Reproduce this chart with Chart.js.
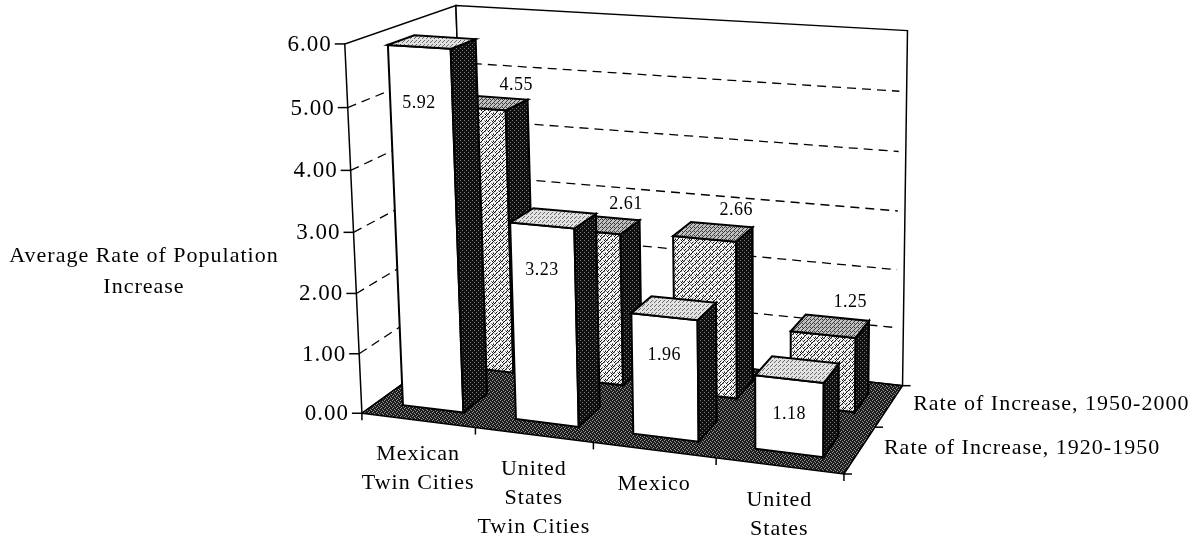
<!DOCTYPE html>
<html>
<head>
<meta charset="utf-8">
<script src="https://cdn.jsdelivr.net/npm/chart.js@4.4.1/dist/chart.umd.min.js"></script>
<style>
  html, body { margin: 0; padding: 0; background: #fff; }
  #wrap { width: 1199px; height: 546px; }
</style>
</head>
<body>
<div id="wrap"><canvas id="c" width="1199" height="546"></canvas></div>
<script>
// ---- data ----
const categories = [
  ['Mexican', 'Twin Cities'],
  ['United', 'States', 'Twin Cities'],
  ['Mexico'],
  ['United', 'States']
];
const seriesNames = ['Rate of Increase, 1920-1950', 'Rate of Increase, 1950-2000'];
const rate1920to1950 = [5.92, 3.23, 1.96, 1.18];
const rate1950to2000 = [4.55, 2.61, 2.66, 1.25];
const valueAxisRange = [0, 6];
const valueAxisStep = 1;
const axisTitle = ['Average Rate of Population', 'Increase'];

// ---- layout of the 3D box ----
// Box corners in normalised box space (x: category axis, y: value axis, z: series rows)
// and where they sit on the canvas; a pinhole camera is fitted through them.
const boxAnchors = [
  [[0, 0, 0], [363, 411]],
  [[0, 1, 0], [345, 44]],
  [[0, 0.5, 0], [354, 230]],
  [[0.25, 0, 0], [475, 430]],
  [[0.5, 0, 0], [593, 446]],
  [[0.75, 0, 0], [715, 460]],
  [[1, 0, 0], [843, 471]],
  [[1, 0, 0.5], [877, 426]],
  [[1, 0, 1], [902, 385]],
  [[1, 0.5, 1], [905, 212]],
  [[1, 1, 1], [908, 31]],
  [[0, 1, 1], [455, 6]]
];
const rowFrontGap = 0.27;  // gap in front of a bar inside its series row
const rowBarDepth = 0.46;  // bar depth inside its series row
const SERIF = '"Liberation Serif", "Times New Roman", serif';

function solveProjection(anchors) {
  const A = [], b = [];
  anchors.forEach(([[X, Y, Z], [u, v]]) => {
    A.push([X, Y, Z, 1, 0, 0, 0, 0, -u * X, -u * Y, -u * Z]); b.push(u);
    A.push([0, 0, 0, 0, X, Y, Z, 1, -v * X, -v * Y, -v * Z]); b.push(v);
  });
  const n = 11;
  const M = [];
  for (let i = 0; i < n; i++) {
    const row = new Array(n + 1).fill(0);
    for (let j = 0; j < n; j++) {
      let s = 0;
      for (let k = 0; k < A.length; k++) s += A[k][i] * A[k][j];
      row[j] = s;
    }
    let s = 0;
    for (let k = 0; k < A.length; k++) s += A[k][i] * b[k];
    row[n] = s;
    M.push(row);
  }
  for (let c = 0; c < n; c++) {
    let piv = c;
    for (let r = c + 1; r < n; r++) if (Math.abs(M[r][c]) > Math.abs(M[piv][c])) piv = r;
    [M[c], M[piv]] = [M[piv], M[c]];
    for (let r = 0; r < n; r++) {
      if (r === c) continue;
      const f = M[r][c] / M[c][c];
      for (let j = c; j <= n; j++) M[r][j] -= f * M[c][j];
    }
  }
  const p = M.map((row, i) => row[n] / row[i]);
  return (x, y, z) => {
    const w = p[8] * x + p[9] * y + p[10] * z + 1;
    return [
      (p[0] * x + p[1] * y + p[2] * z + p[3]) / w,
      (p[4] * x + p[5] * y + p[6] * z + p[7]) / w
    ];
  };
}

function makePattern(ctx, size, base, layers) {
  const c = document.createElement('canvas');
  c.width = c.height = size;
  const g = c.getContext('2d');
  g.fillStyle = base;
  g.fillRect(0, 0, size, size);
  layers.forEach(([color, pixels]) => {
    g.fillStyle = color;
    pixels.forEach(([x, y]) => g.fillRect(x, y, 1, 1));
  });
  return ctx.createPattern(c, 'repeat');
}

const box3d = {
  id: 'box3d',
  afterDatasetsDraw(chart) {
    const ctx = chart.ctx;
    const xs = chart.scales.x, ys = chart.scales.y;
    const proj = solveProjection(boxAnchors);
    const nRows = chart.data.datasets.length;
    const nCats = chart.data.labels.length;

    const pat = {
      floor: makePattern(ctx, 4, '#1c1c1c', [['#959595', [[0, 0], [2, 1], [1, 3], [3, 2]]]]),
      side: makePattern(ctx, 4, '#101010', [['#7a7a7a', [[0, 0], [2, 2]]]]),
      topPlain: makePattern(ctx, 4, '#e2e2e2', [['#6c6c6c', [[0, 0], [2, 2], [3, 1]]]]),
      hatch: makePattern(ctx, 7, '#f6f6f6', [
        ['#8a8a8a', [[1, 1], [4, 4], [2, 5], [5, 2], [3, 0], [0, 3], [6, 6]]],
        ['#151515', [[0, 6], [1, 5], [2, 4], [3, 3], [4, 2], [5, 1], [6, 0], [2, 2], [3, 1], [5, 5], [6, 4]]]
      ]),
      topHatch: makePattern(ctx, 4, '#c0c0c0', [['#3c3c3c', [[0, 3], [1, 2], [2, 1], [3, 0], [2, 3]]]])
    };

    const poly = (pts, fill, stroke, lw) => {
      ctx.beginPath();
      pts.forEach((p, i) => {
        const [u, v] = proj(p[0], p[1], p[2]);
        if (i === 0) ctx.moveTo(u, v); else ctx.lineTo(u, v);
      });
      ctx.closePath();
      if (fill) { ctx.fillStyle = fill; ctx.fill(); }
      if (stroke) { ctx.strokeStyle = stroke; ctx.lineWidth = lw || 1.5; ctx.lineJoin = 'miter'; ctx.stroke(); }
    };
    const line = (a, b, lw, dash) => {
      const [u1, v1] = proj(a[0], a[1], a[2]);
      const [u2, v2] = proj(b[0], b[1], b[2]);
      ctx.beginPath();
      ctx.setLineDash(dash || []);
      ctx.moveTo(u1, v1); ctx.lineTo(u2, v2);
      ctx.strokeStyle = '#000'; ctx.lineWidth = lw || 1.5;
      ctx.stroke();
      ctx.setLineDash([]);
    };
    const yDec = v => ys.getDecimalForPixel(ys.getPixelForValue(v));

    ctx.save();

    // walls
    poly([[0, 0, 0], [0, 1, 0], [0, 1, 1], [0, 0, 1]], '#fff', '#000', 1.5);
    poly([[0, 0, 1], [1, 0, 1], [1, 1, 1], [0, 1, 1]], '#fff', '#000', 1.5);

    // gridlines on both walls
    const ticks = ys.ticks;
    ticks.forEach(t => {
      if (t.value <= ys.min || t.value >= ys.max) return;
      const y = yDec(t.value);
      line([0, y, 0], [0, y, 1], 1.3, [9, 6]);
      line([0, y, 1], [0.985, y, 1], 1.3, [9, 6]);
    });

    // floor
    poly([[0, 0, 0], [1, 0, 0], [1, 0, 1], [0, 0, 1]], pat.floor, '#000', 1.5);

    // value axis tick marks and labels
    ctx.font = '23px ' + SERIF;
    ctx.letterSpacing = '1px';
    ctx.fillStyle = '#000';
    ctx.textAlign = 'right';
    ctx.textBaseline = 'middle';
    ticks.forEach(t => {
      const [u, v] = proj(0, yDec(t.value), 0);
      ctx.beginPath();
      ctx.moveTo(u - 10, v); ctx.lineTo(u, v);
      ctx.strokeStyle = '#000'; ctx.lineWidth = 1.5; ctx.stroke();
      ctx.fillText(t.label, u - 13, v + 1);
    });

    // category tick marks along the front edge
    for (let i = 0; i <= nCats; i++) {
      const [u, v] = proj(i / nCats, 0, 0);
      ctx.beginPath(); ctx.moveTo(u, v); ctx.lineTo(u, v + 7);
      ctx.lineWidth = 1.5; ctx.stroke();
    }
    // series tick marks along the right edge
    for (let r = 0; r <= nRows; r++) {
      const [u, v] = proj(1, 0, r / nRows);
      ctx.beginPath(); ctx.moveTo(u, v); ctx.lineTo(u + 8, v);
      ctx.lineWidth = 1.5; ctx.stroke();
    }

    // bars: back row first, left to right
    const barBoxes = [];
    for (let di = nRows - 1; di >= 0; di--) {
      const meta = chart.getDatasetMeta(di);
      const z0 = (di + rowFrontGap) / nRows;
      const z1 = (di + rowFrontGap + rowBarDepth) / nRows;
      meta.data.forEach((el, i) => {
        const x0 = xs.getDecimalForPixel(el.x - el.width / 2);
        const x1 = xs.getDecimalForPixel(el.x + el.width / 2);
        const y0 = ys.getDecimalForPixel(el.base);
        const y1 = ys.getDecimalForPixel(el.y);
        const front = di === 0 ? '#ffffff' : pat.hatch;
        const top = di === 0 ? pat.topPlain : pat.topHatch;
        poly([[x0, y0, z0], [x1, y0, z0], [x1, y1, z0], [x0, y1, z0]], front, '#000', 2);
        poly([[x1, y0, z0], [x1, y0, z1], [x1, y1, z1], [x1, y1, z0]], pat.side, '#000', 2);
        poly([[x0, y1, z0], [x1, y1, z0], [x1, y1, z1], [x0, y1, z1]], top, '#000', 2);
        barBoxes.push({di, i, x0, x1, y1, z0, z1, value: chart.data.datasets[di].data[i]});
      });
    }

    // value labels
    ctx.font = '18px ' + SERIF;
    ctx.letterSpacing = '0.5px';
    ctx.textAlign = 'center';
    ctx.textBaseline = 'middle';
    ctx.fillStyle = '#000';
    barBoxes.forEach(b => {
      const xc = (b.x0 + b.x1) / 2;
      let u, v;
      if (b.di === 0) {
        [u, v] = proj(xc, b.y1, b.z0);
        v += 30 + 4.5 * b.value;
      } else {
        [u, v] = proj(xc, b.y1, 1);
        u += 5; v -= 6;
      }
      ctx.fillText(b.value.toFixed(2), u, v);
    });

    // category labels
    ctx.font = '22px ' + SERIF;
    ctx.letterSpacing = '1px';
    ctx.textBaseline = 'alphabetic';
    ctx.textAlign = 'center';
    chart.data.labels.forEach((lab, i) => {
      const [u, v] = proj((i + 0.5) / nCats, 0, 0);
      lab.forEach((ln, k) => ctx.fillText(ln, u, v + 40 + k * 29));
    });

    // series names beside the right edge
    ctx.textAlign = 'left';
    ctx.textBaseline = 'middle';
    chart.data.datasets.forEach((ds, r) => {
      const [u, v] = proj(1, 0, (r + 0.5) / nRows);
      ctx.fillText(ds.label, u + 24, v - 2);
    });

    // value axis title
    ctx.textAlign = 'center';
    ctx.textBaseline = 'alphabetic';
    axisTitle.forEach((ln, k) => ctx.fillText(ln, 144, 262 + k * 31));

    ctx.restore();
  }
};

new Chart(document.getElementById('c'), {
  type: 'bar',
  data: {
    labels: categories,
    datasets: [
      {label: seriesNames[0], data: rate1920to1950, backgroundColor: 'rgba(0,0,0,0)', borderWidth: 0},
      {label: seriesNames[1], data: rate1950to2000, backgroundColor: 'rgba(0,0,0,0)', borderWidth: 0}
    ]
  },
  options: {
    responsive: false,
    animation: false,
    devicePixelRatio: 1,
    layout: {padding: 0},
    datasets: {bar: {grouped: false, categoryPercentage: 1, barPercentage: 0.54}},
    scales: {
      x: {display: false},
      y: {
        display: false,
        min: valueAxisRange[0],
        max: valueAxisRange[1],
        ticks: {stepSize: valueAxisStep, callback: v => Number(v).toFixed(2)}
      }
    },
    plugins: {legend: {display: false}, tooltip: {enabled: false}}
  },
  plugins: [box3d]
});
</script>
</body>
</html>
